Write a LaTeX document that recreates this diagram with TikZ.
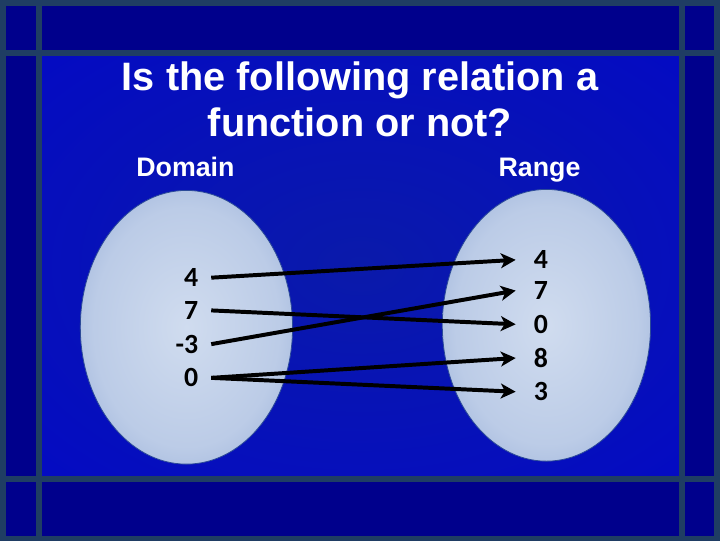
\documentclass[tikz,border=0pt]{standalone}
\usepackage{fontspec}
\setmainfont{Liberation Sans}
\newfontfamily\numfont{Carlito}
\definecolor{slidenavy}{HTML}{00008C}
\definecolor{slidegrid}{HTML}{1F3D63}
\definecolor{slideblue}{HTML}{0000D4}
\definecolor{slidemid}{HTML}{0A1AAA}
\definecolor{setlight}{HTML}{D0DCEF}
\definecolor{setdark}{HTML}{6A8AC6}
\definecolor{setedge}{HTML}{2B4A98}
\usetikzlibrary{arrows.meta}
\pgfdeclareradialshading{setglow}{\pgfpoint{0bp}{0bp}}{color(0bp)=(setlight); color(22bp)=(setlight!80!setdark); color(50bp)=(setdark)}
\pgfdeclareradialshading{slideglow}{\pgfpoint{0bp}{0bp}}{color(0bp)=(slidemid); color(30bp)=(slidemid!50!slideblue); color(60bp)=(slideblue)}

\begin{document}
\begin{tikzpicture}[x=1pt, y=-1pt,
    title/.style={text=white, font=\bfseries\fontsize{40}{46}\selectfont, align=center},
    head/.style={text=white, font=\bfseries\fontsize{27}{30}\selectfont},
    num/.style={text=black, font=\numfont\bfseries\fontsize{28}{30}\selectfont, inner ysep=0pt},
    lnum/.style={num, anchor=east, inner xsep=13pt},
    rnum/.style={num, anchor=west, inner xsep=18pt},
    set/.style={draw=setedge, line width=0.8pt, shading=setglow},
    arr/.style={-{Stealth[length=15pt, width=15pt, inset=4pt]}, line width=4pt, black},
    grid/.style={slidegrid, line width=6pt},
  ]
    % slide background and frame
    \fill[slidenavy] (0,0) rectangle (720,540);
    \shade[shading=slideglow] (39,53) rectangle (682,477);
    \draw[grid] (36,0) -- (36,540);
    \draw[grid] (685,0) -- (685,540);
    \draw[grid] (0,50) -- (720,50);
    \draw[grid] (0,480) -- (720,480);
    \draw[grid] (0,0) rectangle (720,540);

    % the two sets
    \shadedraw[set] (185,327) ellipse [x radius=107pt, y radius=138pt];
    \shadedraw[set] (548,325) ellipse [x radius=105pt, y radius=137pt];

    \node[title] (question) at (360,97) {Is the following relation a\\function or not?};
    \node[head] (domain) at (184,165) {Domain};
    \node[head] (range) at (541,169) {Range};

    % domain values
    \node[lnum] (d4) at (210,277) {4};
    \node[lnum] (d7) at (210,310) {7};
    \node[lnum] (dm3) at (210,344) {-3};
    \node[lnum] (d0) at (210,378) {0};

    % range values
    \node[rnum] (r4) at (517,259) {4};
    \node[rnum] (r7) at (517,290) {7};
    \node[rnum] (r0) at (517,324) {0};
    \node[rnum] (r8) at (517,358) {8};
    \node[rnum] (r3) at (517,392) {3};

    \draw[arr] (d4.east) -- (r4.west);
    \draw[arr] (d7.east) -- (r0.west);
    \draw[arr] (dm3.east) -- (r7.west);
    \draw[arr] (d0.east) -- (r8.west);
    \draw[arr] (d0.east) -- (r3.west);
  \end{tikzpicture}
\end{document}
